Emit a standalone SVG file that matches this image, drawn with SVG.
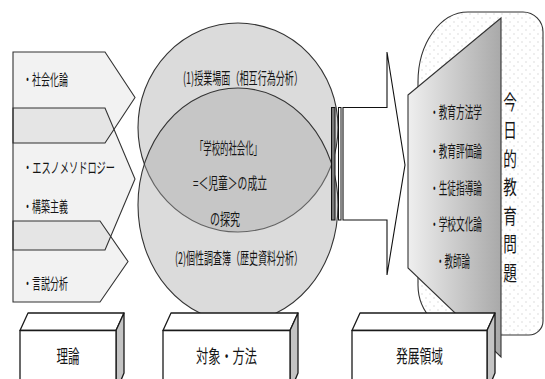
<svg xmlns="http://www.w3.org/2000/svg" width="545" height="379" viewBox="0 0 545 379">
<defs>
  <linearGradient id="trapGrad" x1="0" y1="0" x2="1" y2="0">
    <stop offset="0" stop-color="#efefef"/>
    <stop offset="1" stop-color="#a9a9a9"/>
  </linearGradient>
  <pattern id="dots" width="8" height="8" patternUnits="userSpaceOnUse">
    <rect width="8" height="8" fill="#ffffff"/>
    <circle cx="2" cy="2" r="0.7" fill="#d2d2d2"/>
    <circle cx="6" cy="6" r="0.7" fill="#d2d2d2"/>
  </pattern>
  <style>
    .chev { fill:#000000; fill-opacity:0.05; stroke:#333333; stroke-width:1.1; }
    .t { font-family:"Noto Sans CJK JP","Noto Sans CJK SC",sans-serif; fill:#151515; dominant-baseline:central; }
    .s14 { font-size:15px; }
    .s15 { font-size:16px; }
    .s17 { font-size:18px; }
    .face { fill:#ffffff; stroke:#1a1a1a; stroke-width:1.3; stroke-linejoin:round; }
    .side { fill:#c4c4c4; stroke:#1a1a1a; stroke-width:1.3; stroke-linejoin:round; }
  </style>
</defs>
<rect width="545" height="379" fill="#ffffff"/>

<g id="theory-chevrons">
  <polygon class="chev" points="13,52 105,52 135,97.5 105,143 13,143"/>
  <polygon class="chev" points="13,108 105,108 135,179 105,250 13,250"/>
  <polygon class="chev" points="13,221 100,221 128,261.5 100,302 13,302"/>
  <text class="t s14" x="23" y="78" textLength="45" lengthAdjust="spacingAndGlyphs">・社会化論</text>
  <text class="t s14" x="23" y="166" textLength="92" lengthAdjust="spacingAndGlyphs">・エスノメソドロジー</text>
  <text class="t s14" x="23" y="205" textLength="45" lengthAdjust="spacingAndGlyphs">・構築主義</text>
  <text class="t s14" x="23" y="282" textLength="45" lengthAdjust="spacingAndGlyphs">・言説分析</text>
</g>

<g id="circles">
  <ellipse cx="238" cy="127.5" rx="100" ry="104.5" fill="#dbdbdb" stroke="#333333" stroke-width="1.1"/>
  <ellipse cx="238" cy="205" rx="100" ry="117" fill="#a9a9a9" fill-opacity="0.417" stroke="#333333" stroke-width="1.1"/>
  <text class="t s15" x="183" y="77" textLength="120" lengthAdjust="spacingAndGlyphs">(1)授業場面（相互行為分析）</text>
  <text class="t s15" x="195" y="147" textLength="67" lengthAdjust="spacingAndGlyphs">「学校的社会化」</text>
  <text class="t s15" x="193" y="182" textLength="74" lengthAdjust="spacingAndGlyphs">=＜児童＞の成立</text>
  <text class="t s15" x="210" y="218" textLength="30" lengthAdjust="spacingAndGlyphs">の探究</text>
  <text class="t s15" x="175" y="257" textLength="128" lengthAdjust="spacingAndGlyphs">(2)個性調査簿（歴史資料分析）</text>
</g>

<g id="issues-panel">
  <path d="M 468,12 H 523 A 20,20 0 0 1 543,32 V 321 A 14,14 0 0 1 529,335 H 468 A 50,50 0 0 1 418,285 V 82 A 50,70 0 0 1 468,12 Z" fill="url(#dots)" stroke="#333333" stroke-width="1.1"/>
  <text class="t" style="font-size:20px; writing-mode:vertical-rl; letter-spacing:8.5px" transform="scale(0.68,1)" x="750" y="92">今日的教育問題</text>
</g>

<g id="development-fields">
  <polygon points="408,95 501,18 501,357 408,268" fill="url(#trapGrad)" stroke="#333333" stroke-width="1.1"/>
  <text class="t s15" x="430" y="111" textLength="52" lengthAdjust="spacingAndGlyphs">・教育方法学</text>
  <text class="t s15" x="430" y="150" textLength="52" lengthAdjust="spacingAndGlyphs">・教育評価論</text>
  <text class="t s15" x="430" y="187" textLength="52" lengthAdjust="spacingAndGlyphs">・生徒指導論</text>
  <text class="t s15" x="430" y="223" textLength="52" lengthAdjust="spacingAndGlyphs">・学校文化論</text>
  <text class="t s15" x="436" y="260" textLength="34" lengthAdjust="spacingAndGlyphs">・教師論</text>
</g>

<g id="connectors">
  <rect x="331.5" y="107.5" width="3.5" height="112.5" fill="#7a7a7a" stroke="#111111" stroke-width="1"/>
  <rect x="338.5" y="107.5" width="2.5" height="112.5" fill="#ffffff" stroke="#111111" stroke-width="1"/>
  <polygon points="343,107.5 387,107.5 387,52 405,165 387,275 387,220 343,220" fill="#ffffff" stroke="#111111" stroke-width="1.1" stroke-linejoin="miter"/>
</g>

<g id="box-theory">
  <polygon class="face" points="20,330.5 28,313 124,313 116,330.5"/>
  <polygon class="side" points="116,330.5 124,313 124,373 116,392"/>
  <rect class="face" x="20" y="330.5" width="96" height="62"/>
  <text class="t s17" x="56.5" y="355" textLength="23" lengthAdjust="spacingAndGlyphs">理論</text>
</g>

<g id="box-object-method">
  <polygon class="face" points="163,330.5 171,313 298,313 290,330.5"/>
  <polygon class="side" points="290,330.5 298,313 298,373 290,392"/>
  <rect class="face" x="163" y="330.5" width="127" height="62"/>
  <text class="t s17" x="196" y="355" textLength="61" lengthAdjust="spacingAndGlyphs">対象・方法</text>
</g>

<g id="box-development">
  <polygon class="face" points="352,330.5 360,313 495,313 487,330.5"/>
  <polygon class="side" points="487,330.5 495,313 495,373 487,392"/>
  <rect class="face" x="352" y="330.5" width="135" height="62"/>
  <text class="t s17" x="396" y="355" textLength="47" lengthAdjust="spacingAndGlyphs">発展領域</text>
</g>
</svg>
